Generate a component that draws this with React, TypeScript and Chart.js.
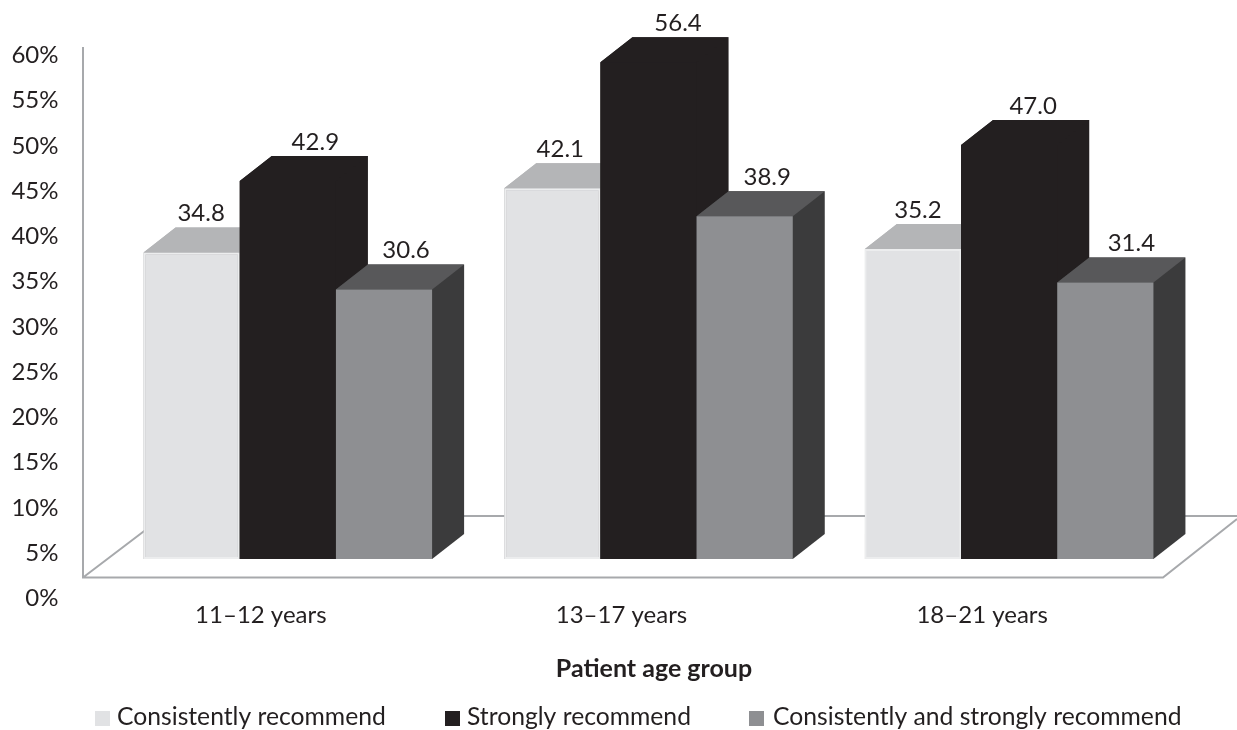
import React, { useEffect, useRef } from "react";
import { Chart, registerables } from "chart.js";

Chart.register(...registerables);

const ageGroups = ["11–12 years", "13–17 years", "18–21 years"];
const consistently = [34.8, 42.1, 35.2];
const strongly = [42.9, 56.4, 47.0];
const consistentlyAndStrongly = [30.6, 38.9, 31.4];
const yTicksMax = 60;
const axisTitle = "Patient age group";

const FONT = "Lato, Carlito, sans-serif";
const INK = "#231f20";
const FRAME = "#a7a9ac";

// Extrusion of the bars and of the floor plate, in pixels.
const DEPTH_X = 32;
const DEPTH_Y = 25;

// Per-series shading of the extruded faces.
const topFaces = ["#b4b5b7", "#231f20", "#58585a"];
const sideFaces = ["#b4b5b7", "#231f20", "#3b3b3c"];

// Horizontal nudge of each value label, by group then series.
const labelNudge = [
  [9.5, 27.5, 22],
  [8, 29.5, 22.5],
  [5, 24, 26],
];

const legendX = [95, 445, 749];
const legendTextX = [117, 467, 773];

function polygon(ctx: CanvasRenderingContext2D, pts: number[][], fill: string) {
  ctx.beginPath();
  pts.forEach(([x, y], i) => (i ? ctx.lineTo(x, y) : ctx.moveTo(x, y)));
  ctx.closePath();
  ctx.fillStyle = fill;
  ctx.fill();
}

const bars3d = {
  id: "bars3d",
  beforeDatasetsDraw(chart: any) {
    const ctx: CanvasRenderingContext2D = chart.ctx;
    const { left, bottom } = chart.chartArea;
    const axisX = left - 24.5;
    const floorFront = bottom - 18.5;
    const floorBack = bottom - 80;

    // Floor plate and vertical axis line.
    ctx.save();
    ctx.strokeStyle = FRAME;
    ctx.lineWidth = 2;
    ctx.beginPath();
    ctx.moveTo(axisX, 47);
    ctx.lineTo(axisX, floorFront);
    ctx.lineTo(axisX + 1080, floorFront);
    ctx.lineTo(axisX + 1154, floorBack + 3);
    ctx.moveTo(axisX, floorFront);
    ctx.lineTo(axisX + 81, floorBack);
    ctx.lineTo(chart.width, floorBack);
    ctx.stroke();
    ctx.restore();

    // Series are painted left to right so each bar overlaps the previous one.
    // The full outline goes down first, so faces of one colour show no seams.
    ctx.save();
    chart.data.datasets.forEach((_: any, d: number) => {
      const meta = chart.getDatasetMeta(d);
      meta.data.forEach((el: any) => {
        const { x, y, base, width } = el.getProps(["x", "y", "base", "width"], true);
        const x0 = x - width / 2;
        const x1 = x + width / 2;
        polygon(
          ctx,
          [[x0, y], [x0 + DEPTH_X, y - DEPTH_Y], [x1 + DEPTH_X, y - DEPTH_Y], [x1 + DEPTH_X, base - DEPTH_Y], [x1, base], [x0, base]],
          sideFaces[d],
        );
        polygon(ctx, [[x0, y], [x0 + DEPTH_X, y - DEPTH_Y], [x1 + DEPTH_X, y - DEPTH_Y], [x1, y]], topFaces[d]);
        el.draw(ctx);
      });
    });
    ctx.restore();

    // Value labels above the extruded tops.
    ctx.save();
    ctx.font = `24px ${FONT}`;
    ctx.fillStyle = INK;
    ctx.textAlign = "center";
    ctx.textBaseline = "middle";
    chart.data.datasets.forEach((ds: any, d: number) => {
      chart.getDatasetMeta(d).data.forEach((el: any, i: number) => {
        ctx.fillText(ds.data[i].toFixed(1), el.x + labelNudge[i][d], el.y - 39);
      });
    });
    ctx.restore();

    // Axis title and legend row.
    ctx.save();
    ctx.fillStyle = INK;
    ctx.textBaseline = "middle";
    ctx.textAlign = "center";
    ctx.font = `bold 25px ${FONT}`;
    ctx.fillText(axisTitle, 654, 669);
    ctx.textAlign = "left";
    ctx.font = `24.7px ${FONT}`;
    chart.data.datasets.forEach((ds: any, d: number) => {
      ctx.fillStyle = ds.backgroundColor;
      ctx.fillRect(legendX[d], 711, 15, 15);
      ctx.fillStyle = INK;
      ctx.fillText(ds.label, legendTextX[d], 717);
    });
    ctx.restore();
    return false;
  },
};

export default function App() {
  const ref = useRef<HTMLCanvasElement>(null);

  useEffect(() => {
    const chart = new Chart(ref.current!, {
      type: "bar",
      data: {
        labels: ageGroups,
        datasets: [
          { label: "Consistently recommend", data: consistently, backgroundColor: "#e1e2e4", borderColor: "#ecedee", borderWidth: 2 },
          { label: "Strongly recommend", data: strongly, backgroundColor: "#231f20" },
          { label: "Consistently and strongly recommend", data: consistentlyAndStrongly, backgroundColor: "#8e8f92" },
        ].map((ds) => ({ ...ds, yAxisID: "barY", categoryPercentage: 0.8, barPercentage: 1, borderSkipped: false })),
      },
      plugins: [bars3d],
      options: {
        responsive: false,
        animation: false,
        layout: { autoPadding: false, padding: { top: 53, right: 47.5, left: 0, bottom: 0 } },
        plugins: { legend: { display: false }, tooltip: { enabled: false } },
        scales: {
          x: {
            grid: { display: false },
            border: { display: false },
            ticks: {
              font: { family: FONT, size: 24 },
              color: INK,
              labelOffset: -27,
              padding: -3,
              maxRotation: 0,
              autoSkip: false,
            },
            afterFit: (s: any) => {
              s.height = 134;
            },
          },
          y: {
            min: 0,
            max: yTicksMax,
            grid: { display: false },
            border: { display: false },
            ticks: {
              stepSize: 5,
              font: { family: FONT, size: 24, lineHeight: 1 },
              color: INK,
              padding: 41,
              labelOffset: 2.5,
              callback: (v: any) => `${v}%`,
            },
            afterFit: (s: any) => {
              s.width = 107.5;
            },
          },
          // The bars stand on the raised floor, so they use their own value scale.
          barY: { display: false, min: -4.2, max: 57.44 },
        },
      },
    });
    return () => chart.destroy();
  }, []);

  return (
    <canvas
      ref={ref}
      width={1237}
      height={730}
      style={{ position: "absolute", left: 0, top: 0, display: "block" }}
    />
  );
}
